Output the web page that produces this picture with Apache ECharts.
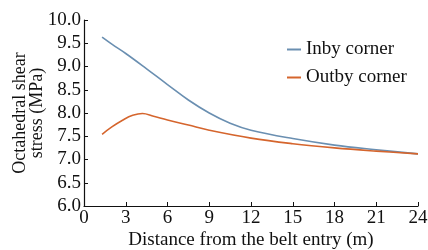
<!DOCTYPE html>
<html>
<head>
<meta charset="utf-8">
<script src="https://cdn.jsdelivr.net/npm/echarts@6/dist/echarts.min.js"></script>
<style>
html, body { margin: 0; padding: 0; background: #fff; }
#main { width: 428px; height: 250px; }
</style>
</head>
<body>
<div id="main"></div>
<script>
// distance from the belt entry (m)
var inbyX = [1.3, 2, 3, 4.5, 6, 7.5, 9, 10.5, 12, 15, 18, 21, 24];
var inbyY = [9.63, 9.48, 9.28, 8.95, 8.61, 8.28, 8.0, 7.78, 7.63, 7.45, 7.31, 7.21, 7.12];
var outbyX = [1.3, 2, 2.8, 3.5, 4.2, 5, 6, 7.5, 9, 12, 15, 18, 21, 24];
var outbyY = [7.54, 7.70, 7.85, 7.95, 7.99, 7.93, 7.85, 7.74, 7.63, 7.46, 7.34, 7.25, 7.18, 7.12];
var xTicks = [0, 3, 6, 9, 12, 15, 18, 21, 24];
var yTicks = [6.0, 6.5, 7.0, 7.5, 8.0, 8.5, 9.0, 9.5, 10.0];

function pairs(xs, ys) {
    return xs.map(function (x, i) { return [x, ys[i]]; });
}

var dom = document.getElementById('main');
var myChart = echarts.init(dom, null, { renderer: 'canvas' });

var font = 'Liberation Serif';

var option = {
    backgroundColor: '#fff',
    animation: false,
    textStyle: { fontFamily: font },
    grid: { left: 84, right: 10, top: 20, bottom: 44, containLabel: false, outerBoundsMode: 'none' },
    legend: {
        orient: 'vertical',
        left: 282,
        top: 35,
        itemWidth: 14,
        itemHeight: 2,
        itemGap: 9,
        icon: 'rect',
        textStyle: { fontFamily: font, fontSize: 19, color: '#111' },
        data: ['Inby corner', 'Outby corner']
    },
    xAxis: {
        type: 'value',
        min: xTicks[0],
        max: xTicks[xTicks.length - 1],
        interval: 3,
        name: 'Distance from the belt entry (m)',
        nameLocation: 'middle',
        nameGap: 25,
        nameMoveOverlap: false,
        nameTextStyle: { fontFamily: font, fontSize: 19, color: '#111' },
        axisLine: { lineStyle: { color: '#111', width: 1.2 } },
        axisTick: { inside: true, length: 4, lineStyle: { color: '#111' } },
        axisLabel: { fontFamily: font, fontSize: 19, color: '#111', margin: 3 },
        splitLine: { show: false }
    },
    yAxis: {
        type: 'value',
        min: yTicks[0],
        max: yTicks[yTicks.length - 1],
        interval: 0.5,
        name: 'Octahedral shear\nstress (MPa)',
        nameLocation: 'middle',
        nameGap: 38,
        nameMoveOverlap: false,
        nameTextStyle: { fontFamily: font, fontSize: 18, color: '#111', lineHeight: 17 },
        axisLine: { show: true, lineStyle: { color: '#111', width: 1.2 } },
        axisTick: { show: true, inside: true, length: 4, lineStyle: { color: '#111' } },
        axisLabel: {
            fontFamily: font, fontSize: 19, color: '#111', margin: 3,
            formatter: function (v) { return v.toFixed(1); }
        },
        splitLine: { show: false }
    },
    series: [
        {
            name: 'Inby corner',
            type: 'line',
            smooth: 0.4,
            showSymbol: false,
            lineStyle: { color: '#6a8fb1', width: 1.6 },
            itemStyle: { color: '#6a8fb1' },
            data: pairs(inbyX, inbyY)
        },
        {
            name: 'Outby corner',
            type: 'line',
            smooth: 0.4,
            showSymbol: false,
            lineStyle: { color: '#d5652d', width: 1.6 },
            itemStyle: { color: '#d5652d' },
            data: pairs(outbyX, outbyY)
        }
    ]
};

myChart.setOption(option);
window.addEventListener('resize', myChart.resize);
</script>
</body>
</html>
